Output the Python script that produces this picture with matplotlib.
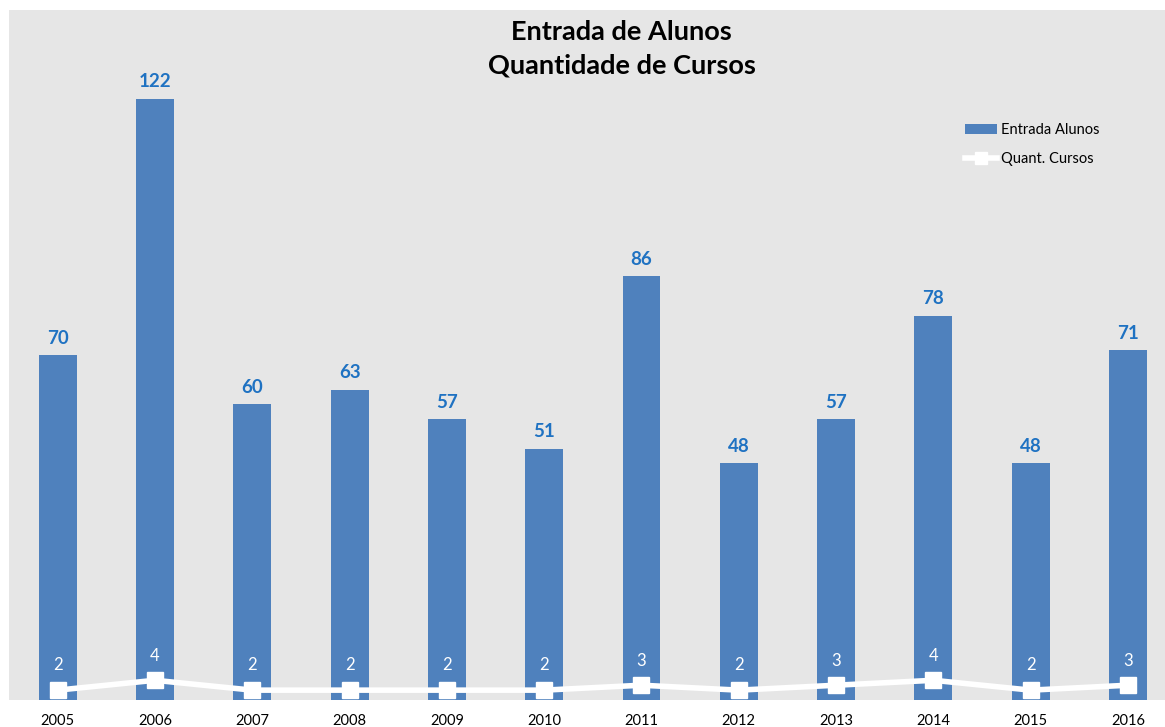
import matplotlib.pyplot as plt

plt.rcParams['font.family'] = ['Lato', 'DejaVu Sans']

anos = ['2005', '2006', '2007', '2008', '2009', '2010',
        '2011', '2012', '2013', '2014', '2015', '2016']
entrada_alunos = [70, 122, 60, 63, 57, 51, 86, 48, 57, 78, 48, 71]
quant_cursos = [2, 4, 2, 2, 2, 2, 3, 2, 3, 4, 2, 3]

fig = plt.figure(figsize=(11.65, 7.27), dpi=100)
ax = fig.add_axes([9 / 1165, 27 / 727, 1156 / 1165, 690 / 727])
ax.set_facecolor('#e6e6e6')

x = list(range(len(anos)))
bars = ax.bar(x, entrada_alunos, width=0.39, color='#4f81bd', label='Entrada Alunos', zorder=2)
line, = ax.plot(x, quant_cursos, color='white', lw=4, marker='s', markersize=11,
                label='Quant. Cursos', zorder=3)

# valores das barras
for xi, v in zip(x, entrada_alunos):
    ax.annotate(str(v), (xi, v), xytext=(0, 6), textcoords='offset points',
                ha='center', va='bottom', fontsize=13.5, fontweight='bold', color='#1f72c2')

# valores da linha
for xi, v in zip(x, quant_cursos):
    ax.annotate(str(v), (xi, v), xytext=(0, 12), textcoords='offset points',
                ha='center', va='bottom', fontsize=12, color='white')

ax.set_xlim(-0.5, 11.38)
ax.set_ylim(0, 140)
ax.set_xticks(x)
ax.set_xticklabels(anos, fontsize=10.5)
ax.tick_params(axis='x', length=0, pad=10)
ax.set_yticks([])
for s in ax.spines.values():
    s.set_visible(False)

ax.text(0.530, 0.986, 'Entrada de Alunos\nQuantidade de Cursos', transform=ax.transAxes,
        ha='center', va='top', fontsize=19.5, fontweight='bold', linespacing=1.5)

leg = ax.legend([bars, line], ['Entrada Alunos', 'Quant. Cursos'], loc='upper right',
                bbox_to_anchor=(0.955, 0.855), frameon=False, fontsize=10.5,
                handlelength=2.2, handletextpad=0.3, labelspacing=1.0)
leg.legend_handles[1].set_markersize(8)

fig.savefig('out.png', dpi=100)
